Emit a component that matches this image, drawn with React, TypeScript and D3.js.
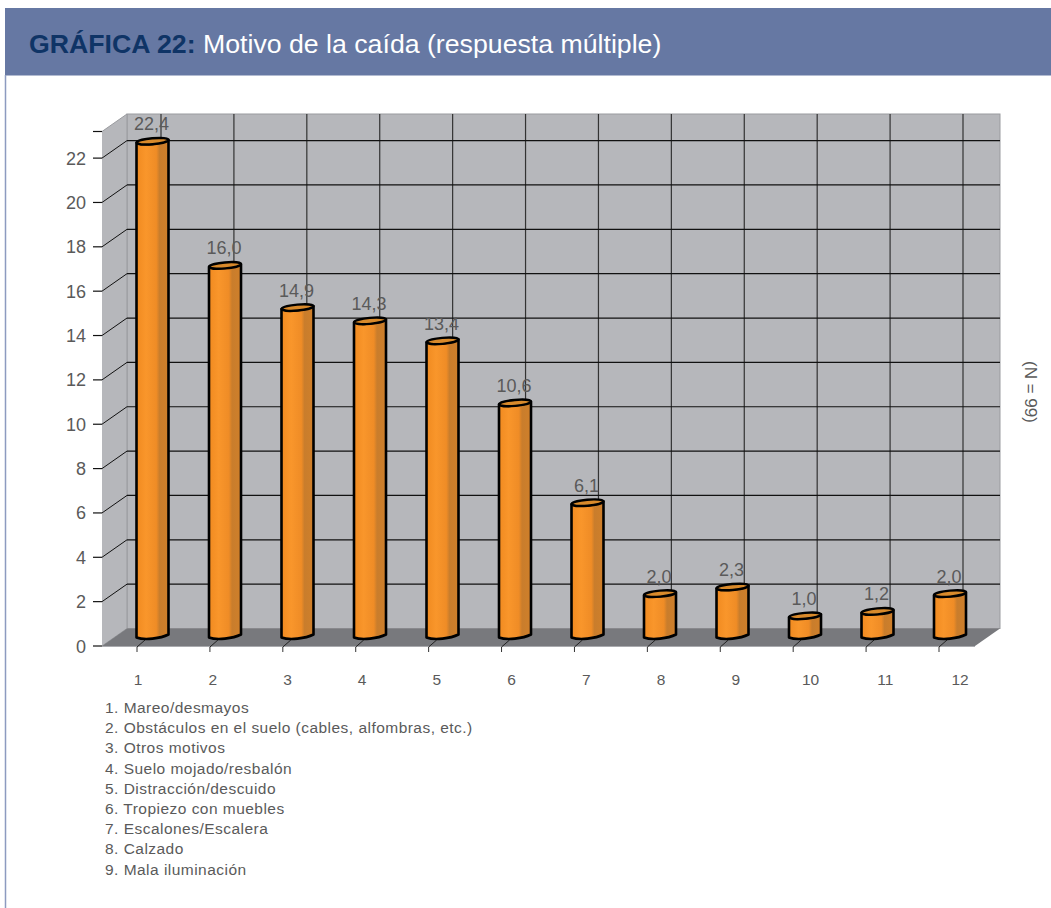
import React from 'react'
import * as d3 from 'd3'

const categories = ['1', '2', '3', '4', '5', '6', '7', '8', '9', '10', '11', '12']
// bar heights as drawn; bar 2 is taller than its printed label
const barValues = [22.4, 16.8, 14.9, 14.3, 13.4, 10.6, 6.1, 2.0, 2.3, 1.0, 1.2, 2.0]
const barLabels = ['22,4', '16,0', '14,9', '14,3', '13,4', '10,6', '6,1', '2,0', '2,3', '1,0', '1,2', '2,0']
const yTicks = [0, 2, 4, 6, 8, 10, 12, 14, 16, 18, 20, 22]
const legendItems = [
  '1. Mareo/desmayos',
  '2. Obstáculos en el suelo (cables, alfombras, etc.)',
  '3. Otros motivos',
  '4. Suelo mojado/resbalón',
  '5. Distracción/descuido',
  '6. Tropiezo con muebles',
  '7. Escalones/Escalera',
  '8. Calzado',
  '9. Mala iluminación',
]

const FONT = '"Liberation Sans", Arial, sans-serif'
const TEXT = '#5a5a5a'
const yMax = 23.2
const depthX = 25
const depthY = 17.5
const left = 102
const right = 975

const y = d3.scaleLinear().domain([0, yMax]).range([646, 131.5])
const xTick = d3.scalePoint<string>().domain(categories).range([137, 939])
const xBar = d3.scalePoint<string>().domain(categories).range([152.5, 950])
const xLabel = d3.scalePoint<string>().domain(categories).range([138, 960])
const wallPath = d3.line()

const Bar = ({ cat, value, label }: { cat: string; value: number; label: string }) => {
  const cx = xBar(cat)!
  const rx = 16
  const ry = 3
  const tilt = 1.5
  const bottom = y(0) - 10
  const top = y(value) - 8
  const body = `M${cx - rx},${top + tilt} L${cx - rx},${bottom + tilt}
    C${cx - rx / 2},${bottom + ry + 1.5} ${cx + rx / 2},${bottom + ry - 0.5} ${cx + rx},${bottom - tilt}
    L${cx + rx},${top - tilt}
    C${cx + rx / 2},${top + ry - 0.5} ${cx - rx / 2},${top + ry + 1.5} ${cx - rx},${top + tilt} Z`
  return (
    <g>
      <path d={body} fill="url(#cyl)" stroke="#000" strokeWidth={2.6} strokeLinejoin="round" />
      <ellipse
        cx={cx}
        cy={top}
        rx={rx}
        ry={ry}
        transform={`rotate(-5 ${cx} ${top})`}
        fill="#d98a2b"
        stroke="#000"
        strokeWidth={2.4}
      />
      <text x={cx - 1} y={top - 11} textAnchor="middle" fontSize={18} fill={TEXT} fontFamily={FONT}>
        {label}
      </text>
    </g>
  )
}

export default function App() {
  const y0 = y(0)
  const yTop = y(yMax)
  return (
    <svg width={1051} height={908} style={{ position: 'absolute', left: 0, top: 0, background: '#fff' }}>
      <defs>
        <linearGradient id="cyl" x1="0" x2="1" y1="0" y2="0">
          <stop offset="0" stopColor="#f08a20" />
          <stop offset="0.3" stopColor="#f9962b" />
          <stop offset="0.62" stopColor="#ef8c26" />
          <stop offset="0.72" stopColor="#c97d2c" />
          <stop offset="1" stopColor="#cf7f2a" />
        </linearGradient>
      </defs>

      <rect x={5} y={8} width={1046} height={67.5} fill="#6678a3" />
      <line x1={5.5} x2={5.5} y1={75} y2={908} stroke="#8d9bc0" strokeWidth={1.5} />
      <text x={29} y={53} fontSize={26.7} fontFamily={FONT}>
        <tspan fontWeight="bold" fill="#0f3466">GRÁFICA 22:</tspan>
        <tspan fill="#fff"> Motivo de la caída (respuesta múltiple)</tspan>
      </text>

      {/* walls */}
      <rect x={left + depthX} y={yTop - depthY} width={right - left} height={y0 - yTop} fill="#b6b7bb" stroke="#9a9b9f" />
      <path
        d={wallPath([[left, yTop], [left + depthX, yTop - depthY], [left + depthX, y0 - depthY], [left, y0]])!}
        fill="#b6b7bb"
        stroke="#9a9b9f"
      />
      <path
        d={wallPath([[left, y0], [left + depthX, y0 - depthY], [right + depthX, y0 - depthY], [right, y0]])!}
        fill="#78797d"
      />
      <line x1={left} x2={right} y1={y0 + 0.5} y2={y0 + 0.5} stroke="#a9aaae" />

      {/* grid */}
      {categories.map(c => (
        <g key={c}>
          <line x1={xTick(c)! + 24} x2={xTick(c)! + 24} y1={yTop - depthY} y2={y0 - depthY} stroke="#333" strokeWidth={1.2} />
          <line x1={xTick(c)!} x2={xTick(c)!} y1={y0 + 6} y2={y0 + 1} stroke="#333" />
          <line x1={xTick(c)!} x2={xTick(c)! + 8} y1={y0 + 1} y2={y0 - 6} stroke="#222" />
          <text x={xLabel(c)} y={685} textAnchor="middle" fontSize={15.5} fill={TEXT} fontFamily={FONT}>
            {c}
          </text>
        </g>
      ))}
      {[...yTicks, yMax].map(t => (
        <g key={t}>
          <line x1={left - 9} x2={left} y1={y(t)} y2={y(t)} stroke="#111" strokeWidth={1.2} />
          {t !== yMax && t !== 0 && (
            <>
              <line x1={left} x2={left + depthX} y1={y(t)} y2={y(t) - depthY} stroke="#111" />
              <line x1={left + depthX} x2={right + depthX} y1={y(t) - depthY} y2={y(t) - depthY} stroke="#111" strokeWidth={1.2} />
            </>
          )}
          {t !== yMax && (
            <text x={86} y={y(t) + 6.5} textAnchor="end" fontSize={18} fill={TEXT} fontFamily={FONT}>
              {t}
            </text>
          )}
        </g>
      ))}

      {categories.map((c, i) => (
        <Bar key={c} cat={c} value={barValues[i]} label={barLabels[i]} />
      ))}

      {legendItems.map((d, i) => (
        <text key={d} x={105} y={713 + i * 20.2} fontSize={15.5} letterSpacing={0.47} fill={TEXT} fontFamily={FONT}>
          {d}
        </text>
      ))}

      <text
        transform="translate(1025 392) rotate(90)"
        textAnchor="middle"
        fontSize={17}
        fill={TEXT}
        fontFamily={FONT}
      >
        (N = 99)
      </text>
    </svg>
  )
}
